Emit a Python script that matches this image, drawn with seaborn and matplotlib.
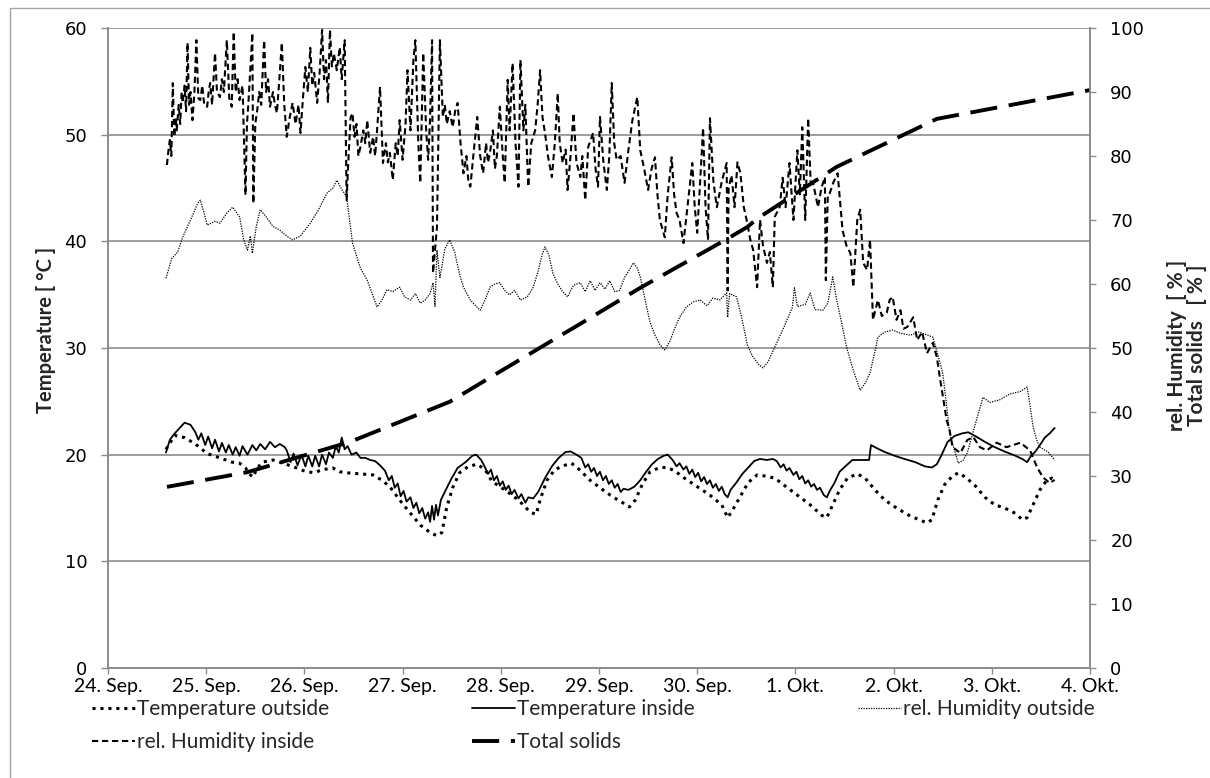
import matplotlib
matplotlib.use("Agg")
import matplotlib.pyplot as plt
from matplotlib.lines import Line2D
import seaborn as sns

# ---------------------------------------------------------------
# Measurement series (x = days since 24. Sep., 00:00)
# ---------------------------------------------------------------
t_out_day = [0.59, 0.68, 0.78, 0.89, 1.01, 1.14, 1.26, 1.34, 1.40, 1.45, 1.48, 1.51,
             1.57, 1.68, 1.78, 1.88, 1.99, 2.09, 2.19, 2.29, 2.36, 2.43, 2.57, 2.70,
             2.79, 2.87, 2.97, 3.08, 3.18, 3.28, 3.35, 3.40, 3.45, 3.51, 3.58, 3.67,
             3.76, 3.84, 3.91, 4.04, 4.18, 4.30, 4.36, 4.40, 4.47, 4.55, 4.65, 4.72,
             4.80, 4.91, 5.01, 5.13, 5.24, 5.31, 5.37, 5.44, 5.52, 5.62, 5.69, 5.77,
             5.87, 6.00, 6.13, 6.25, 6.31, 6.36, 6.44, 6.52, 6.61, 6.69, 6.79, 6.89,
             7.02, 7.15, 7.27, 7.32, 7.38, 7.45, 7.53, 7.63, 7.71, 7.81, 7.91, 8.03,
             8.16, 8.26, 8.34, 8.39, 8.45, 8.52, 8.60, 8.66, 8.73, 8.83, 8.93, 9.03,
             9.13, 9.24, 9.31, 9.36, 9.42, 9.49, 9.56, 9.61, 9.64]
t_out_val = [20.5, 21.8, 21.6, 21.0, 20.1, 19.7, 19.3, 19.2, 18.75, 18.1, 17.9, 18.6,
             19.3, 19.5, 19.2, 18.9, 18.5, 18.3, 18.6, 18.75, 18.4, 18.3, 18.2, 18.1,
             17.6, 17.0, 15.75, 14.5, 13.4, 12.7, 12.4, 12.7, 15.1, 16.9, 18.3, 18.9,
             19.1, 18.6, 17.5, 16.7, 15.75, 14.6, 14.4, 15.75, 17.6, 18.6, 19.0, 19.2,
             18.6, 17.6, 16.9, 16.1, 15.5, 15.1, 15.75, 17.2, 18.4, 18.8, 18.8, 18.5,
             17.8, 17.0, 16.2, 15.3, 14.1, 14.8, 16.1, 17.4, 18.1, 18.0, 17.8, 17.1,
             16.2, 15.3, 14.3, 14.1, 15.3, 16.7, 17.8, 18.2, 17.8, 16.7, 15.75, 15.0,
             14.3, 13.9, 13.6, 13.9, 15.75, 17.2, 18.0, 18.3, 17.9, 17.1, 16.0, 15.3,
             15.0, 14.5, 13.9, 14.1, 15.3, 16.7, 17.6, 17.8, 17.6]

t_in_day = [0.59, 0.63, 0.68, 0.73, 0.78, 0.84, 0.89, 0.92, 0.95, 0.99, 1.02, 1.06,
            1.09, 1.13, 1.16, 1.20, 1.23, 1.27, 1.30, 1.34, 1.37, 1.42, 1.47, 1.51,
            1.55, 1.60, 1.65, 1.70, 1.75, 1.80, 1.82, 1.86, 1.89, 1.93, 1.97, 2.01,
            2.04, 2.08, 2.11, 2.15, 2.18, 2.22, 2.25, 2.29, 2.32, 2.35, 2.38, 2.41,
            2.44, 2.48, 2.53, 2.57, 2.62, 2.67, 2.72, 2.77, 2.82, 2.86, 2.89, 2.92,
            2.95, 2.98, 3.01, 3.04, 3.08, 3.11, 3.14, 3.17, 3.20, 3.23, 3.26, 3.28,
            3.30, 3.32, 3.34, 3.36, 3.39, 3.44, 3.50, 3.56, 3.64, 3.71, 3.75, 3.80,
            3.84, 3.87, 3.90, 3.93, 3.96, 3.99, 4.02, 4.05, 4.08, 4.11, 4.14, 4.18,
            4.21, 4.25, 4.28, 4.33, 4.38, 4.45, 4.52, 4.59, 4.66, 4.71, 4.77, 4.82,
            4.86, 4.89, 4.92, 4.95, 4.98, 5.01, 5.04, 5.07, 5.10, 5.13, 5.16, 5.19,
            5.22, 5.25, 5.30, 5.36, 5.42, 5.48, 5.54, 5.60, 5.66, 5.70, 5.75, 5.79,
            5.82, 5.86, 5.89, 5.92, 5.95, 5.98, 6.01, 6.04, 6.07, 6.10, 6.13, 6.16,
            6.19, 6.22, 6.25, 6.28, 6.31, 6.34, 6.40, 6.46, 6.52, 6.58, 6.64, 6.71,
            6.77, 6.81, 6.85, 6.88, 6.91, 6.94, 6.98, 7.01, 7.04, 7.07, 7.10, 7.13,
            7.16, 7.19, 7.22, 7.25, 7.29, 7.32, 7.35, 7.40, 7.45, 7.52, 7.58, 7.64,
            7.70, 7.75, 7.77, 7.83, 7.91, 8.01, 8.11, 8.22, 8.32, 8.39, 8.44, 8.49,
            8.55, 8.62, 8.70, 8.76, 8.83, 8.93, 9.03, 9.13, 9.24, 9.31, 9.36, 9.40,
            9.44, 9.49, 9.54, 9.59, 9.64]
t_in_val = [20.2, 21.4, 22.0, 22.5, 23.0, 22.8, 22.1, 21.4, 22.0, 20.9, 21.7, 20.6,
            21.4, 20.3, 21.1, 20.2, 20.9, 20.0, 20.7, 19.9, 20.8, 20.0, 20.9, 20.4,
            21.0, 20.5, 21.2, 20.7, 21.0, 20.7, 20.4, 19.3, 20.1, 19.0, 20.0, 18.9,
            19.9, 18.9, 19.9, 18.9, 20.0, 19.1, 20.2, 19.7, 20.8, 20.2, 21.6, 20.5,
            20.8, 20.0, 20.2, 19.7, 19.7, 19.5, 19.4, 19.0, 18.5, 17.6, 18.0, 16.9,
            17.3, 16.1, 16.6, 15.6, 16.0, 15.0, 15.5, 14.5, 15.0, 14.0, 14.6, 13.7,
            15.2, 13.9, 15.3, 14.3, 15.75, 16.7, 17.8, 18.75, 19.3, 19.9, 20.0, 19.5,
            18.8, 18.2, 18.6, 17.6, 18.0, 17.1, 17.5, 16.7, 17.1, 16.3, 16.7, 15.9,
            16.3, 15.5, 16.0, 15.9, 16.5, 17.8, 18.9, 19.7, 20.25, 20.3, 20.0, 19.7,
            18.8, 19.1, 18.4, 18.75, 18.0, 18.4, 17.6, 18.0, 17.25, 17.6, 16.9, 17.25,
            16.5, 16.8, 16.7, 17.0, 17.6, 18.4, 19.1, 19.6, 19.9, 20.0, 19.5, 18.9,
            19.2, 18.6, 18.9, 18.2, 18.6, 17.9, 18.3, 17.5, 17.9, 17.25, 17.6, 16.9,
            17.25, 16.6, 17.0, 16.3, 16.0, 16.7, 17.4, 18.2, 18.8, 19.4, 19.6, 19.5,
            19.6, 19.4, 18.8, 19.1, 18.5, 18.75, 18.1, 18.4, 17.7, 18.0, 17.3, 17.6,
            17.0, 17.25, 16.7, 16.9, 16.2, 16.0, 16.6, 17.4, 18.4, 19.0, 19.5, 19.5,
            19.5, 19.5, 20.9, 20.6, 20.25, 19.9, 19.6, 19.3, 18.9, 18.8, 19.1, 20.0,
            21.2, 21.75, 22.0, 22.1, 21.75, 21.2, 20.7, 20.3, 19.9, 19.6, 19.3, 19.9,
            20.25, 20.9, 21.6, 22.0, 22.5]

rh_out_day = [0.59, 0.65, 0.71, 0.76, 0.84, 0.91, 0.94, 0.98, 1.01, 1.09, 1.14, 1.21,
              1.27, 1.34, 1.38, 1.42, 1.45, 1.47, 1.51, 1.55, 1.61, 1.68, 1.75, 1.82,
              1.88, 1.96, 2.06, 2.14, 2.23, 2.29, 2.33, 2.38, 2.43, 2.46, 2.49, 2.57,
              2.64, 2.69, 2.74, 2.79, 2.84, 2.90, 2.97, 3.02, 3.08, 3.13, 3.18, 3.23,
              3.28, 3.31, 3.33, 3.35, 3.38, 3.43, 3.48, 3.53, 3.58, 3.62, 3.69, 3.75,
              3.79, 3.84, 3.89, 3.94, 3.99, 4.04, 4.09, 4.14, 4.20, 4.27, 4.33, 4.38,
              4.42, 4.45, 4.49, 4.53, 4.58, 4.63, 4.68, 4.74, 4.81, 4.86, 4.91, 4.96,
              5.01, 5.06, 5.11, 5.16, 5.21, 5.26, 5.32, 5.35, 5.39, 5.42, 5.47, 5.52,
              5.57, 5.62, 5.67, 5.72, 5.77, 5.82, 5.89, 5.96, 6.03, 6.10, 6.16, 6.23,
              6.30, 6.31, 6.33, 6.40, 6.45, 6.51, 6.56, 6.62, 6.67, 6.72, 6.81, 6.89,
              6.97, 6.99, 7.02, 7.10, 7.15, 7.20, 7.28, 7.33, 7.38, 7.42, 7.47, 7.52,
              7.59, 7.66, 7.71, 7.76, 7.81, 7.84, 7.91, 7.99, 8.07, 8.17, 8.26, 8.40,
              8.45, 8.50, 8.54, 8.57, 8.63, 8.66, 8.71, 8.75, 8.83, 8.91, 8.98, 9.08,
              9.18, 9.29, 9.36, 9.39, 9.42, 9.46, 9.49, 9.57, 9.64]
rh_out_val = [60.9, 64.0, 65.0, 67.3, 70.0, 72.5, 73.1, 71.0, 69.2, 69.8, 69.5, 71.1,
              72.0, 70.5, 67.0, 65.3, 67.5, 64.8, 69.0, 71.6, 70.5, 69.0, 68.4, 67.5,
              66.9, 67.5, 69.5, 71.5, 74.2, 75.0, 76.2, 74.8, 73.6, 70.0, 66.4, 62.5,
              60.6, 58.5, 56.4, 57.5, 59.1, 58.8, 59.5, 58.0, 57.5, 58.5, 57.0, 57.5,
              58.5, 60.2, 56.5, 65.3, 61.0, 65.5, 66.9, 65.0, 61.5, 59.5, 57.5, 56.5,
              55.9, 57.5, 59.5, 60.0, 60.2, 59.0, 58.3, 59.0, 57.5, 58.0, 59.5, 62.0,
              64.5, 65.8, 64.5, 61.7, 60.0, 58.8, 58.0, 59.8, 60.2, 58.8, 60.5, 59.0,
              60.2, 59.2, 60.5, 58.8, 59.0, 61.0, 62.5, 63.3, 62.5, 61.1, 57.5, 54.0,
              52.0, 50.5, 49.7, 51.0, 53.0, 54.8, 56.4, 57.2, 57.5, 56.6, 57.8, 57.5,
              58.6, 54.8, 58.5, 58.0, 55.0, 50.5, 48.8, 47.5, 46.9, 47.8, 50.8, 53.5,
              56.4, 59.4, 56.5, 56.8, 58.6, 56.0, 55.9, 57.0, 61.1, 57.5, 54.0, 50.2,
              46.5, 43.4, 44.5, 46.1, 49.5, 51.7, 52.5, 52.8, 52.3, 52.0, 52.5, 51.7,
              49.0, 46.1, 41.0, 36.7, 33.5, 32.0, 32.5, 33.6, 38.0, 42.3, 41.5, 41.9,
              42.8, 43.2, 43.9, 41.0, 37.7, 35.5, 34.5, 33.8, 32.5]

rh_in_day = [0.60, 0.62, 0.63, 0.645, 0.66, 0.675, 0.69, 0.70, 0.72, 0.735, 0.75, 0.76,
             0.78, 0.795, 0.81, 0.825, 0.84, 0.86, 0.88, 0.90, 0.92, 0.94, 0.96, 0.98,
             1.01, 1.025, 1.04, 1.06, 1.075, 1.09, 1.11, 1.14, 1.16, 1.18, 1.21, 1.235,
             1.26, 1.28, 1.30, 1.32, 1.34, 1.37, 1.40, 1.415, 1.43, 1.47, 1.48, 1.50,
             1.52, 1.54, 1.56, 1.59, 1.61, 1.63, 1.65, 1.68, 1.70, 1.72, 1.745, 1.77,
             1.795, 1.82, 1.85, 1.88, 1.91, 1.94, 1.96, 1.985, 2.01, 2.035, 2.06, 2.08,
             2.10, 2.13, 2.155, 2.18, 2.20, 2.22, 2.24, 2.26, 2.28, 2.30, 2.33, 2.36,
             2.38, 2.41, 2.43, 2.45, 2.47, 2.49, 2.51, 2.53, 2.55, 2.57, 2.60, 2.62,
             2.64, 2.67, 2.70, 2.72, 2.74, 2.77, 2.80, 2.83, 2.85, 2.87, 2.90, 2.93,
             2.95, 2.97, 3.00, 3.03, 3.05, 3.08, 3.11, 3.13, 3.16, 3.18, 3.21, 3.24,
             3.26, 3.28, 3.30, 3.31, 3.35, 3.38, 3.41, 3.43, 3.45, 3.48, 3.51, 3.535,
             3.56, 3.59, 3.62, 3.65, 3.67, 3.69, 3.72, 3.74, 3.76, 3.79, 3.82, 3.85,
             3.87, 3.89, 3.92, 3.94, 3.96, 3.99, 4.02, 4.04, 4.07, 4.09, 4.12, 4.15,
             4.18, 4.20, 4.23, 4.25, 4.27, 4.28, 4.31, 4.35, 4.375, 4.40, 4.425, 4.45,
             4.48, 4.52, 4.55, 4.58, 4.60, 4.63, 4.66, 4.68, 4.71, 4.74, 4.77, 4.81,
             4.83, 4.86, 4.89, 4.94, 4.965, 4.99, 5.01, 5.045, 5.08, 5.105, 5.13, 5.155,
             5.18, 5.22, 5.26, 5.30, 5.34, 5.39, 5.42, 5.46, 5.50, 5.535, 5.57, 5.595,
             5.62, 5.67, 5.70, 5.74, 5.765, 5.79, 5.82, 5.86, 5.90, 5.95, 5.975, 6.00,
             6.03, 6.06, 6.085, 6.11, 6.13, 6.165, 6.20, 6.25, 6.30, 6.31, 6.32, 6.35,
             6.38, 6.41, 6.44, 6.475, 6.51, 6.54, 6.57, 6.61, 6.64, 6.67, 6.71, 6.74,
             6.77, 6.79, 6.84, 6.87, 6.90, 6.94, 6.98, 7.02, 7.045, 7.07, 7.10, 7.13,
             7.155, 7.18, 7.23, 7.265, 7.30, 7.31, 7.33, 7.35, 7.39, 7.43, 7.48, 7.52,
             7.56, 7.59, 7.63, 7.66, 7.69, 7.73, 7.76, 7.79, 7.84, 7.88, 7.93, 7.96,
             7.99, 8.03, 8.07, 8.10, 8.14, 8.20, 8.24, 8.29, 8.34, 8.40, 8.44, 8.47,
             8.54, 8.57, 8.60, 8.68, 8.75, 8.81, 8.88, 8.95, 9.05, 9.15, 9.29, 9.39,
             9.46, 9.52, 9.59, 9.64]
rh_in_val = [78.6, 81.5, 82.5, 80.0, 91.4, 83.0, 86.0, 84.0, 88.0, 85.0, 90.0, 88.3,
             91.0, 87.0, 97.7, 88.0, 90.0, 85.6, 90.0, 98.1, 89.0, 88.75, 91.0, 88.0,
             87.7, 90.0, 91.4, 88.0, 92.0, 96.1, 90.0, 89.2, 92.0, 90.0, 98.1, 89.0,
             87.7, 99.4, 90.0, 92.0, 88.75, 91.0, 73.9, 85.0, 88.3, 99.2, 72.6, 85.0,
             87.2, 90.0, 88.0, 98.1, 90.0, 92.0, 87.7, 90.0, 88.0, 86.7, 92.0, 97.7,
             88.0, 83.0, 86.0, 88.3, 85.0, 88.0, 83.6, 89.0, 93.9, 90.0, 96.9, 91.0,
             93.0, 88.3, 93.0, 99.7, 92.0, 95.0, 88.3, 99.7, 94.0, 96.0, 93.4, 97.0,
             92.0, 98.1, 73.1, 80.0, 86.0, 86.7, 83.0, 85.0, 80.0, 81.4, 84.0, 82.0,
             85.6, 80.5, 83.0, 80.0, 84.0, 90.8, 78.9, 82.0, 79.0, 80.5, 76.25, 82.0,
             80.0, 85.6, 79.4, 85.0, 93.4, 84.0, 95.0, 98.1, 82.0, 75.8, 96.1, 84.0,
             79.4, 86.0, 98.1, 61.7, 68.9, 98.1, 86.1, 88.0, 85.0, 87.0, 84.5, 87.0,
             88.3, 82.0, 77.3, 80.0, 76.0, 75.2, 80.0, 83.0, 86.1, 80.0, 77.3, 82.0,
             79.0, 80.5, 84.0, 78.0, 80.0, 87.7, 80.0, 75.8, 91.9, 84.0, 94.5, 82.0,
             75.2, 95.0, 84.0, 88.0, 78.9, 75.2, 82.0, 84.0, 88.0, 93.4, 86.0, 83.6,
             80.0, 76.7, 82.0, 89.8, 82.0, 78.9, 81.0, 74.7, 80.0, 86.7, 79.0, 76.7,
             80.0, 73.1, 81.4, 83.6, 78.0, 75.2, 86.1, 79.0, 74.7, 80.0, 91.4, 82.0,
             79.4, 80.0, 75.8, 81.0, 85.6, 89.2, 80.9, 78.0, 74.7, 78.0, 79.8, 74.0,
             70.0, 67.3, 74.0, 79.8, 74.0, 71.1, 70.0, 66.4, 72.0, 78.9, 72.0, 68.0,
             76.0, 84.4, 72.0, 66.9, 85.9, 76.0, 72.0, 76.0, 78.9, 59.0, 75.0, 77.0,
             72.0, 79.0, 77.3, 72.0, 69.5, 67.0, 65.3, 59.5, 70.0, 66.0, 63.3, 65.0,
             59.5, 70.5, 72.0, 76.6, 72.0, 78.9, 70.0, 80.9, 74.0, 84.5, 70.0, 85.9,
             76.0, 75.8, 72.0, 75.0, 76.7, 60.6, 74.0, 74.2, 76.0, 77.3, 68.4, 66.0,
             64.8, 59.5, 70.0, 71.6, 63.3, 62.2, 66.9, 54.4, 57.5, 55.0, 55.5, 57.5,
             58.0, 54.4, 55.9, 53.0, 53.3, 54.8, 51.25, 52.5, 49.2, 50.8, 48.6, 45.5,
             38.75, 37.2, 34.5, 33.6, 35.6, 36.1, 34.5, 34.0, 35.2, 34.5, 35.2, 34.0,
             31.4, 29.8, 28.9, 29.4]

ts_day = [0.60, 1.42, 2.46, 3.48, 3.99, 4.91, 5.42, 6.30, 6.51, 6.61, 7.22, 7.42, 8.44, 10.0]
ts_val = [28.3, 30.6, 35.3, 41.6, 46.3, 54.7, 59.4, 67.0, 68.9, 70.2, 76.3, 78.3, 85.8, 90.3]

x_tick_labels = ["24. Sep.", "25. Sep.", "26. Sep.", "27. Sep.", "28. Sep.", "29. Sep.",
                 "30. Sep.", "1. Okt.", "2. Okt.", "3. Okt.", "4. Okt."]
temp_ticks = [0, 10, 20, 30, 40, 50, 60]
pct_ticks = [0, 10, 20, 30, 40, 50, 60, 70, 80, 90, 100]

# ---------------------------------------------------------------
sns.set_style("white")
plt.rcParams["font.family"] = ["Lato", "DejaVu Sans"]

W, H = 1210, 778
fig = plt.figure(figsize=(W / 100, H / 100), dpi=100)
ax = fig.add_axes([108 / W, 1 - 668 / H, (1090 - 108) / W, (668 - 28) / H])
ax2 = ax.twinx()

GRID = "#8c8c8c"

common = dict(estimator=None, sort=False, color="black")
sns.lineplot(x=t_out_day, y=t_out_val, ax=ax, lw=2.2, linestyle=(0, (1, 1.6)),
             label="Temperature outside", **common)
sns.lineplot(x=t_in_day, y=t_in_val, ax=ax, lw=1.3, linestyle="-",
             label="Temperature inside", **common)
sns.lineplot(x=rh_out_day, y=rh_out_val, ax=ax2, lw=0.9, linestyle=(0, (1, 1)),
             label="rel. Humidity outside", **common)
sns.lineplot(x=rh_in_day, y=rh_in_val, ax=ax2, lw=1.5, linestyle=(0, (3, 1.8)),
             label="rel. Humidity inside", **common)
sns.lineplot(x=ts_day, y=ts_val, ax=ax2, lw=2.8, linestyle=(0, (7, 3)),
             label="Total solids", **common)

for a in (ax, ax2):
    if a.get_legend() is not None:
        a.get_legend().remove()

# axes ranges and ticks
ax.set_xlim(0, 10)
ax.set_ylim(0, 60)
ax2.set_ylim(0, 100)
ax.set_xticks(range(len(x_tick_labels)))
ax.set_xticklabels(x_tick_labels, fontsize=14, family="Lato")
ax.set_yticks(temp_ticks)
ax.set_yticklabels([str(v) for v in temp_ticks], fontsize=13, family="DejaVu Sans")
ax2.set_yticks(pct_ticks)
ax2.set_yticklabels([str(v) for v in pct_ticks], fontsize=13, family="DejaVu Sans")

ax.grid(False)
ax2.grid(False)
ax.yaxis.grid(True, color=GRID, lw=1.2)
ax.set_axisbelow(True)

for a in (ax, ax2):
    for s in a.spines.values():
        s.set_color(GRID)
        s.set_linewidth(1.2)
    a.spines["top"].set_visible(False)

ax.tick_params(axis="x", direction="out", length=4.5, width=1, color=GRID, pad=3,
               bottom=True, labelcolor="black")
ax.tick_params(axis="y", direction="out", length=5, width=1, color=GRID, pad=10,
               left=True, labelcolor="black")
ax2.tick_params(axis="y", direction="out", length=4.5, width=1, color=GRID, pad=10,
                right=True, labelcolor="black")

ax.set_xlabel("")
ax.set_ylabel("")
ax2.set_ylabel("")
fig.text(46 / W, 1 - 330 / H, "Temperature [ °C ]", rotation=90, ha="center", va="center",
         fontsize=14.5, fontweight="bold", family="Lato")
fig.text(1187 / W, 1 - 345 / H, "rel. Humidity  [ % ]\nTotal solids   [ % ]", rotation=90,
         ha="center", va="center", multialignment="center", linespacing=1.0,
         fontsize=15, fontweight="bold", family="Lato")

# legend, three columns below the plot
handles = {h.get_label(): h for h in ax.get_lines() + ax2.get_lines()}
leg_kw = dict(loc="upper left", frameon=False, borderpad=0, borderaxespad=0,
              handlelength=2.05, handletextpad=0.1, labelspacing=0.63,
              prop=dict(family="Lato", size=15))
columns = [(92, ["Temperature outside", "rel. Humidity inside"]),
           (472, ["Temperature inside", "Total solids"]),
           (858, ["rel. Humidity outside"])]
for xpix, labels in columns:
    fig.legend([handles[l] for l in labels], labels,
               bbox_to_anchor=(xpix / W, 1 - 699 / H), **leg_kw)

# outer frame
fig.add_artist(Line2D([10 / W, 10 / W], [0, 1 - 8 / H], transform=fig.transFigure,
                      color="#a6a6a6", lw=1))
fig.add_artist(Line2D([10 / W, 1], [1 - 8 / H, 1 - 8 / H], transform=fig.transFigure,
                      color="#a6a6a6", lw=1))

fig.savefig("out.png", dpi=100)
